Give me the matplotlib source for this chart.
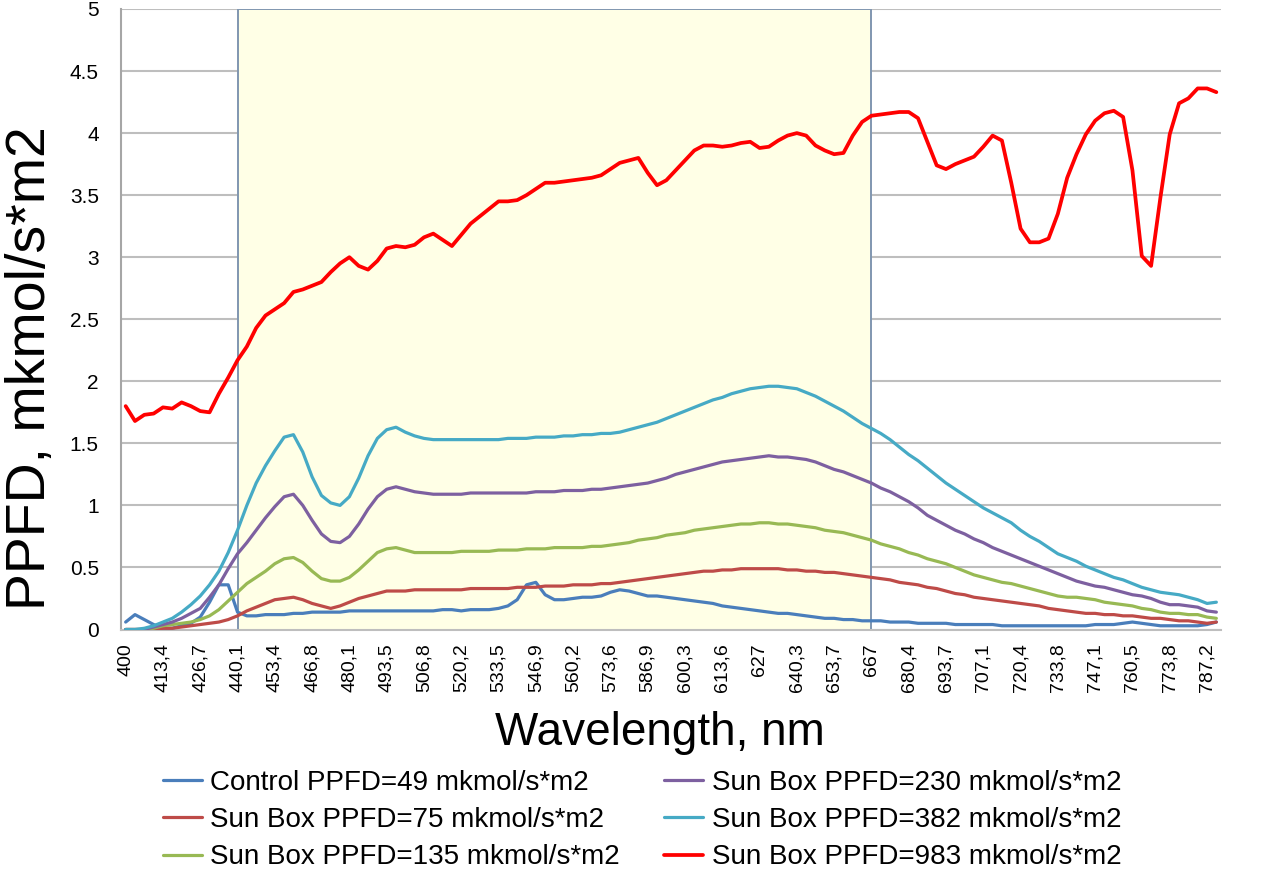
import numpy as np
import matplotlib
matplotlib.use("Agg")
import matplotlib.pyplot as plt
from matplotlib.patches import Rectangle

plt.rcParams['font.family'] = ['Liberation Sans', 'DejaVu Sans']

tick_labels = ["400", "413,4", "426,7", "440,1", "453,4", "466,8", "480,1", "493,5",
               "506,8", "520,2", "533,5", "546,9", "560,2", "573,6", "586,9", "600,3",
               "613,6", "627", "640,3", "653,7", "667", "680,4", "693,7", "707,1",
               "720,4", "733,8", "747,1", "760,5", "773,8", "787,2"]

control_49 = [0.06, 0.12, 0.08, 0.04, 0.01, 0.01, 0.03, 0.05, 0.10, 0.22, 0.36, 0.36, 0.14, 0.11, 0.11, 0.12,
              0.12, 0.12, 0.13, 0.13, 0.14, 0.14, 0.14, 0.14, 0.15, 0.15, 0.15, 0.15, 0.15, 0.15, 0.15, 0.15,
              0.15, 0.15, 0.16, 0.16, 0.15, 0.16, 0.16, 0.16, 0.17, 0.19, 0.24, 0.36, 0.38, 0.28, 0.24, 0.24,
              0.25, 0.26, 0.26, 0.27, 0.30, 0.32, 0.31, 0.29, 0.27, 0.27, 0.26, 0.25, 0.24, 0.23, 0.22, 0.21,
              0.19, 0.18, 0.17, 0.16, 0.15, 0.14, 0.13, 0.13, 0.12, 0.11, 0.10, 0.09, 0.09, 0.08, 0.08, 0.07,
              0.07, 0.07, 0.06, 0.06, 0.06, 0.05, 0.05, 0.05, 0.05, 0.04, 0.04, 0.04, 0.04, 0.04, 0.03, 0.03,
              0.03, 0.03, 0.03, 0.03, 0.03, 0.03, 0.03, 0.03, 0.04, 0.04, 0.04, 0.05, 0.06, 0.05, 0.04, 0.03,
              0.03, 0.03, 0.03, 0.03, 0.04, 0.06]

sunbox_75 = [0.00, 0.00, 0.00, 0.00, 0.01, 0.01, 0.02, 0.03, 0.04, 0.05, 0.06, 0.08, 0.11, 0.15, 0.18, 0.21,
             0.24, 0.25, 0.26, 0.24, 0.21, 0.19, 0.17, 0.19, 0.22, 0.25, 0.27, 0.29, 0.31, 0.31, 0.31, 0.32,
             0.32, 0.32, 0.32, 0.32, 0.32, 0.33, 0.33, 0.33, 0.33, 0.33, 0.34, 0.34, 0.34, 0.35, 0.35, 0.35,
             0.36, 0.36, 0.36, 0.37, 0.37, 0.38, 0.39, 0.40, 0.41, 0.42, 0.43, 0.44, 0.45, 0.46, 0.47, 0.47,
             0.48, 0.48, 0.49, 0.49, 0.49, 0.49, 0.49, 0.48, 0.48, 0.47, 0.47, 0.46, 0.46, 0.45, 0.44, 0.43,
             0.42, 0.41, 0.40, 0.38, 0.37, 0.36, 0.34, 0.33, 0.31, 0.29, 0.28, 0.26, 0.25, 0.24, 0.23, 0.22,
             0.21, 0.20, 0.19, 0.17, 0.16, 0.15, 0.14, 0.13, 0.13, 0.12, 0.12, 0.11, 0.11, 0.10, 0.09, 0.09,
             0.08, 0.07, 0.07, 0.06, 0.05, 0.06]

sunbox_135 = [0.00, 0.00, 0.00, 0.01, 0.03, 0.04, 0.05, 0.06, 0.08, 0.11, 0.16, 0.23, 0.30, 0.37, 0.42, 0.47,
              0.53, 0.57, 0.58, 0.54, 0.47, 0.41, 0.39, 0.39, 0.42, 0.48, 0.55, 0.62, 0.65, 0.66, 0.64, 0.62,
              0.62, 0.62, 0.62, 0.62, 0.63, 0.63, 0.63, 0.63, 0.64, 0.64, 0.64, 0.65, 0.65, 0.65, 0.66, 0.66,
              0.66, 0.66, 0.67, 0.67, 0.68, 0.69, 0.70, 0.72, 0.73, 0.74, 0.76, 0.77, 0.78, 0.80, 0.81, 0.82,
              0.83, 0.84, 0.85, 0.85, 0.86, 0.86, 0.85, 0.85, 0.84, 0.83, 0.82, 0.80, 0.79, 0.78, 0.76, 0.74,
              0.72, 0.69, 0.67, 0.65, 0.62, 0.60, 0.57, 0.55, 0.53, 0.50, 0.47, 0.44, 0.42, 0.40, 0.38, 0.37,
              0.35, 0.33, 0.31, 0.29, 0.27, 0.26, 0.26, 0.25, 0.24, 0.22, 0.21, 0.20, 0.19, 0.17, 0.16, 0.14,
              0.13, 0.13, 0.12, 0.12, 0.10, 0.09]

sunbox_230 = [0.00, 0.00, 0.00, 0.02, 0.04, 0.06, 0.09, 0.13, 0.17, 0.26, 0.36, 0.49, 0.61, 0.70, 0.80, 0.90,
              0.99, 1.07, 1.09, 1.00, 0.88, 0.77, 0.71, 0.70, 0.75, 0.85, 0.97, 1.07, 1.13, 1.15, 1.13, 1.11,
              1.10, 1.09, 1.09, 1.09, 1.09, 1.10, 1.10, 1.10, 1.10, 1.10, 1.10, 1.10, 1.11, 1.11, 1.11, 1.12,
              1.12, 1.12, 1.13, 1.13, 1.14, 1.15, 1.16, 1.17, 1.18, 1.20, 1.22, 1.25, 1.27, 1.29, 1.31, 1.33,
              1.35, 1.36, 1.37, 1.38, 1.39, 1.40, 1.39, 1.39, 1.38, 1.37, 1.35, 1.32, 1.29, 1.27, 1.24, 1.21,
              1.18, 1.14, 1.11, 1.07, 1.03, 0.98, 0.92, 0.88, 0.84, 0.80, 0.77, 0.73, 0.70, 0.66, 0.63, 0.60,
              0.57, 0.54, 0.51, 0.48, 0.45, 0.42, 0.39, 0.37, 0.35, 0.34, 0.32, 0.30, 0.28, 0.27, 0.25, 0.22,
              0.20, 0.20, 0.19, 0.18, 0.15, 0.14]

sunbox_382 = [0.00, 0.00, 0.01, 0.03, 0.06, 0.09, 0.14, 0.20, 0.27, 0.36, 0.47, 0.62, 0.80, 1.00, 1.18, 1.32,
              1.44, 1.55, 1.57, 1.43, 1.23, 1.08, 1.02, 1.00, 1.07, 1.22, 1.40, 1.54, 1.61, 1.63, 1.59, 1.56,
              1.54, 1.53, 1.53, 1.53, 1.53, 1.53, 1.53, 1.53, 1.53, 1.54, 1.54, 1.54, 1.55, 1.55, 1.55, 1.56,
              1.56, 1.57, 1.57, 1.58, 1.58, 1.59, 1.61, 1.63, 1.65, 1.67, 1.70, 1.73, 1.76, 1.79, 1.82, 1.85,
              1.87, 1.90, 1.92, 1.94, 1.95, 1.96, 1.96, 1.95, 1.94, 1.91, 1.88, 1.84, 1.80, 1.76, 1.71, 1.66,
              1.62, 1.58, 1.53, 1.47, 1.41, 1.36, 1.30, 1.24, 1.18, 1.13, 1.08, 1.03, 0.98, 0.94, 0.90, 0.86,
              0.80, 0.75, 0.71, 0.66, 0.61, 0.58, 0.55, 0.51, 0.48, 0.45, 0.42, 0.40, 0.37, 0.34, 0.32, 0.30,
              0.29, 0.28, 0.26, 0.24, 0.21, 0.22]

sunbox_983 = [1.80, 1.68, 1.73, 1.74, 1.79, 1.78, 1.83, 1.80, 1.76, 1.75, 1.90, 2.03, 2.17, 2.28, 2.43, 2.53,
              2.58, 2.63, 2.72, 2.74, 2.77, 2.80, 2.88, 2.95, 3.00, 2.93, 2.90, 2.97, 3.07, 3.09, 3.08, 3.10,
              3.16, 3.19, 3.14, 3.09, 3.18, 3.27, 3.33, 3.39, 3.45, 3.45, 3.46, 3.50, 3.55, 3.60, 3.60, 3.61,
              3.62, 3.63, 3.64, 3.66, 3.71, 3.76, 3.78, 3.80, 3.68, 3.58, 3.62, 3.70, 3.78, 3.86, 3.90, 3.90,
              3.89, 3.90, 3.92, 3.93, 3.88, 3.89, 3.94, 3.98, 4.00, 3.98, 3.90, 3.86, 3.83, 3.84, 3.98, 4.09,
              4.14, 4.15, 4.16, 4.17, 4.17, 4.12, 3.93, 3.74, 3.71, 3.75, 3.78, 3.81, 3.89, 3.98, 3.94, 3.60,
              3.23, 3.12, 3.12, 3.15, 3.35, 3.64, 3.83, 3.99, 4.10, 4.16, 4.18, 4.13, 3.70, 3.01, 2.93, 3.48,
              3.99, 4.24, 4.28, 4.36, 4.36, 4.33]

series = [
    ("Control PPFD=49 mkmol/s*m2", control_49, "#4A7EBB", 2.3),
    ("Sun Box PPFD=75 mkmol/s*m2", sunbox_75, "#BE4B48", 2.3),
    ("Sun Box PPFD=135 mkmol/s*m2", sunbox_135, "#98B954", 2.3),
    ("Sun Box PPFD=230 mkmol/s*m2", sunbox_230, "#7D60A0", 2.3),
    ("Sun Box PPFD=382 mkmol/s*m2", sunbox_382, "#46AAC5", 2.3),
    ("Sun Box PPFD=983 mkmol/s*m2", sunbox_983, "#FF0000", 2.7),
]

fig = plt.figure(figsize=(12.62, 8.72), dpi=100)
ax = fig.add_axes([121/1262, 1-629.5/872, 1100/1262, (629.5-9)/872])

n = len(sunbox_983)
x = np.arange(n)

# highlighted PAR region 440.1 - 667 nm
box_start = tick_labels.index("440,1") * 4
box_end = tick_labels.index("667") * 4
ax.add_patch(Rectangle((box_start, 0), box_end - box_start, 5, facecolor="#FFFFE6",
                       edgecolor="#8096B0", linewidth=1.4, zorder=1))

for label, vals, color, lw in series:
    ax.plot(x, vals, color=color, lw=lw, label=label, zorder=3,
            solid_joinstyle='round', solid_capstyle='round')

ax.set_xlim(-0.5, n - 0.5)
ax.set_ylim(0, 5)
ax.set_yticks(np.arange(0, 5.01, 0.5))
ax.set_yticklabels(["0", "0.5", "1", "1.5", "2", "2.5", "3", "3.5", "4", "4.5", "5"], fontsize=15)
ax.set_xticks(np.arange(0, n, 4)[:len(tick_labels)])
ax.set_xticklabels(tick_labels, rotation=90, fontsize=14)
ax.tick_params(axis='both', length=0)
ax.tick_params(axis='y', pad=16)
ax.tick_params(axis='x', pad=10)
ax.grid(axis='y', color='#BEBEBE', lw=1.5, zorder=0)
ax.set_axisbelow(True)
for s in ['top', 'right']:
    ax.spines[s].set_visible(False)
ax.spines['left'].set_color('#A6A6A6')
ax.spines['left'].set_linewidth(1.5)
ax.spines['bottom'].set_color('#BEBEBE')
ax.spines['bottom'].set_linewidth(1.5)

fig.text(660/1262, 1-733/872, "Wavelength, nm", fontsize=33, ha='center', va='center')
fig.text(31/1262, 1-368/872, "PPFD, mkmol/s*m2", fontsize=40, rotation=90, ha='center', va='center')

fig.legend(loc='upper left', bbox_to_anchor=(163/1262, 1-770/872), ncol=2, frameon=False,
           fontsize=20, handlelength=1.4, handletextpad=0.3, columnspacing=1.6,
           labelspacing=0.40, borderaxespad=0, borderpad=0)

fig.savefig("out.png", dpi=100)
